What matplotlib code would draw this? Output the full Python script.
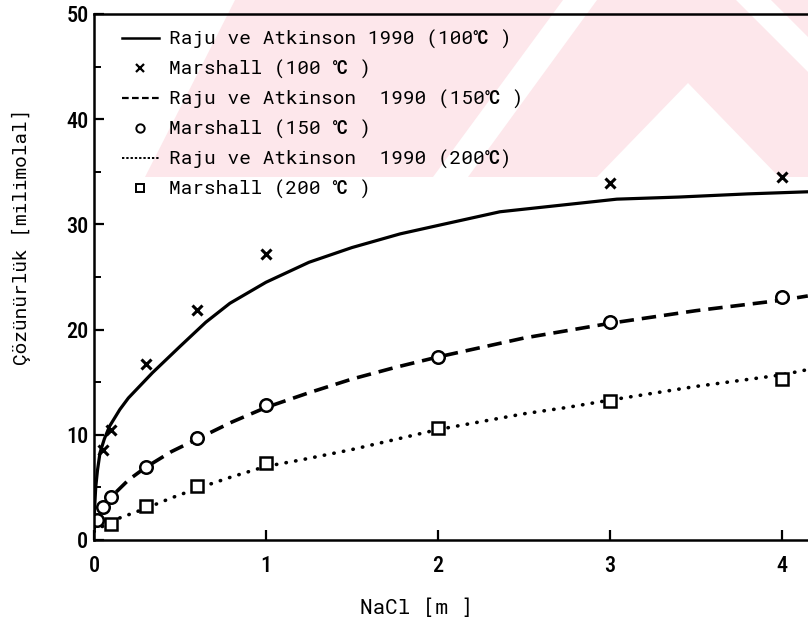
import numpy as np
import matplotlib.pyplot as plt
from matplotlib.patches import Polygon
from matplotlib.lines import Line2D

plt.rcParams['font.family'] = ['Roboto Condensed', 'Liberation Sans Narrow', 'DejaVu Sans']
mono = ['Roboto Mono', 'Roboto Condensed', 'DejaVu Sans']

# Raju ve Atkinson 1990 model curves
x100 = [0, 0.005, 0.01, 0.02, 0.035, 0.06, 0.09, 0.15, 0.2, 0.34, 0.5, 0.65, 0.79, 1.0,
        1.25, 1.5, 1.78, 2.0, 2.36, 2.7, 3.04, 3.4, 3.8, 4.15]
y100 = [1.5, 3.5, 5.0, 6.6, 8.3, 9.6, 10.8, 12.4, 13.5, 15.9, 18.4, 20.7, 22.5, 24.5,
        26.4, 27.8, 29.1, 29.9, 31.2, 31.8, 32.4, 32.6, 32.9, 33.1]
x150 = [0, 0.01, 0.03, 0.05, 0.1, 0.2, 0.3, 0.45, 0.6, 0.8, 1.0, 1.25, 1.5, 1.75, 2.0,
        2.5, 3.0, 3.5, 4.0, 4.15]
y150 = [1.0, 1.9, 2.6, 3.1, 4.1, 5.7, 6.9, 8.4, 9.6, 11.2, 12.6, 14.0, 15.3, 16.4, 17.4,
        19.2, 20.6, 21.8, 22.8, 23.2]
x200 = [0, 0.05, 0.1, 0.2, 0.3, 0.45, 0.6, 0.8, 1.0, 1.2, 1.5, 2.0, 2.5, 2.75, 3.0, 3.5,
        4.0, 4.15]
y200 = [0.8, 1.3, 1.8, 2.4, 3.0, 4.0, 4.9, 6.0, 7.0, 7.6, 8.6, 10.5, 12.0, 12.6, 13.3,
        14.6, 15.7, 16.2]

# Marshall measurements
mx100 = [0.05, 0.1, 0.3, 0.6, 1.0, 3.0, 4.0]
my100 = [8.6, 10.5, 16.7, 21.9, 27.2, 33.9, 34.5]
mx150 = [0.02, 0.05, 0.1, 0.3, 0.6, 1.0, 2.0, 3.0, 4.0]
my150 = [1.9, 3.1, 4.1, 6.9, 9.7, 12.8, 17.4, 20.7, 23.1]
mx200 = [0.1, 0.3, 0.6, 1.0, 2.0, 3.0, 4.0]
my200 = [1.5, 3.2, 5.1, 7.3, 10.6, 13.2, 15.3]

labels = ['Raju ve Atkinson 1990 (100℃ )', 'Marshall (100 ℃ )',
          'Raju ve Atkinson  1990 (150℃ )', 'Marshall (150 ℃ )',
          'Raju ve Atkinson  1990 (200℃)', 'Marshall (200 ℃ )']
xticks = [0, 1, 2, 3, 4]
yticks = [0, 10, 20, 30, 40, 50]

W, H = 808, 626
fig = plt.figure(figsize=(W / 100, H / 100), dpi=100)
ax = fig.add_axes([94 / W, 1 - 540 / H, 714 / W, 526 / H])
ax.set_facecolor('none')

# faint pink logo behind everything
pink = '#fde7eb'
def px(pts):
    return [(x / W, 1 - y / H) for x, y in pts]
shapes = [
    [(235, 0), (563, 0), (433, 177), (145, 177)],
    [(597, 0), (736, 0), (808, 72), (808, 177), (779, 177), (688, 83), (597, 177), (468, 177)],
    [(771, 0), (808, 0), (808, 37)],
]
for s in shapes:
    ax.add_patch(Polygon(px(s), closed=True, transform=fig.transFigure, clip_on=False,
                         facecolor=pink, edgecolor='none', zorder=0.1))

lw = 2.3
ax.plot(x100, y100, color='black', lw=lw, solid_capstyle='round')
ax.plot(x150, y150, color='black', lw=lw + 0.3, linestyle=(0, (4.0, 2.2)))
ax.plot(x200, y200, color='black', lw=lw + 0.3, linestyle=(0, (0.1, 2.6)),
        dash_capstyle='round')
ax.plot(mx100, my100, 'x', color='black', ms=7, mew=2.2, linestyle='none')
ax.plot(mx150, my150, 'o', color='black', mfc='white', ms=9, mew=1.8, linestyle='none')
ax.plot(mx200, my200, 's', color='black', mfc='white', ms=9, mew=1.8, linestyle='none')

ax.set_xlim(0, 714 / 172)
ax.set_ylim(0, 50)
ax.set_xticks(xticks)
ax.set_xticklabels([str(t) for t in xticks], fontweight='medium')
ax.set_yticks(yticks)
ax.set_yticklabels([str(t) for t in yticks], fontweight='medium')
ax.set_yticks(np.arange(5, 50, 10), minor=True)
ax.tick_params(axis='both', which='major', direction='in', length=7, width=1.6,
               labelsize=16)
ax.tick_params(axis='y', which='minor', direction='in', length=5, width=1.4)
ax.tick_params(axis='x', pad=11)
ax.tick_params(axis='y', pad=4)
ax.spines['right'].set_visible(False)
for sp in ['left', 'bottom', 'top']:
    ax.spines[sp].set_linewidth(1.8)

handles = [Line2D([], [], color='black', lw=1.8),
           Line2D([], [], marker='x', color='black', ms=6, mew=1.6, linestyle='none'),
           Line2D([], [], color='black', lw=1.6, linestyle=(0, (3, 1.5))),
           Line2D([], [], marker='o', color='black', mfc='white', ms=6, mew=1.4, linestyle='none'),
           Line2D([], [], color='black', lw=1.4, linestyle=(0, (1.2, 1.0))),
           Line2D([], [], marker='s', color='black', mfc='white', ms=6, mew=1.4, linestyle='none')]
ax.legend(handles, labels, loc='upper left', bbox_to_anchor=(122 / W, 1 - 30 / H),
          bbox_transform=fig.transFigure, frameon=False,
          prop={'family': mono, 'size': 14, 'weight': 'medium'},
          handlelength=1.9, handletextpad=0.5, labelspacing=0.55,
          borderpad=0, borderaxespad=0)

fig.text(417 / W, 1 - 608 / H, 'NaCl [m ]', ha='center', va='center', fontsize=15,
         family=mono, fontweight='medium')
fig.text(21 / W, 1 - 237 / H, 'Çözünürlük [milimolal]', ha='center', va='center',
         rotation=90, fontsize=14, family=mono, fontweight='medium')

fig.savefig('out.png', dpi=100)
